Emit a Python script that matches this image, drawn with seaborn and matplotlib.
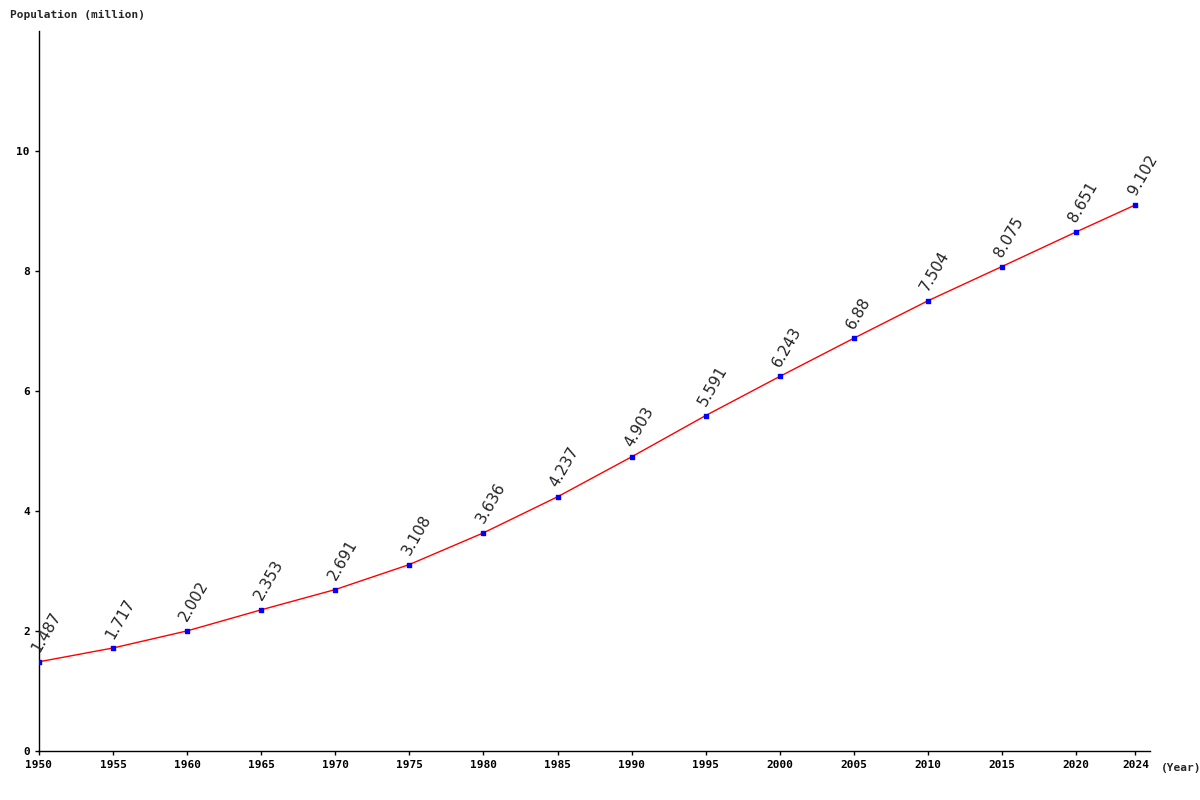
import matplotlib
matplotlib.use("Agg")
import matplotlib.pyplot as plt
import seaborn as sns
import pandas as pd

years = [1950,1955,1960,1965,1970,1975,1980,1985,1990,1995,2000,2005,2010,2015,2020,2024]
pop = [1.487,1.717,2.002,2.353,2.691,3.108,3.636,4.237,4.903,5.591,6.243,6.88,7.504,8.075,8.651,9.102]
labels = ["1.487","1.717","2.002","2.353","2.691","3.108","3.636","4.237","4.903","5.591","6.243","6.88","7.504","8.075","8.651","9.102"]
df = pd.DataFrame({"year": years, "pop": pop})

sns.set_style("white")
fig = plt.figure(figsize=(12, 8), dpi=100)
ax = fig.add_axes([0.0325, 0.06125, 0.926, 0.9])
sns.lineplot(data=df, x="year", y="pop", color="red", linewidth=1, ax=ax)
ax.scatter(df["year"], df["pop"], color="blue", marker="s", s=10, zorder=3)
for x, y, t in zip(years, pop, labels):
    ax.annotate(t, (x, y), xytext=(2, 5), textcoords="offset points", rotation=60,
                fontsize=11, color="#222222", ha="left", va="bottom", rotation_mode="anchor")
ax.set_xlim(1950, 2025)
ax.set_ylim(0, 12)
ax.set_xticks(years)
ax.set_yticks([0, 2, 4, 6, 8, 10])
for s in ["top", "right"]:
    ax.spines[s].set_visible(False)
for s in ["left", "bottom"]:
    ax.spines[s].set_color("black")
    ax.spines[s].set_linewidth(1)
ax.tick_params(axis="both", length=3, width=1, colors="black", labelsize=8, direction="out", bottom=True, left=True)
for lab in ax.get_xticklabels() + ax.get_yticklabels():
    lab.set_fontfamily("DejaVu Sans Mono")
    lab.set_fontweight("bold")
ax.set_xlabel("")
ax.set_ylabel("")
fig.text(0.008, 0.975, "Population (million)", fontsize=8, fontweight="bold", family="DejaVu Sans Mono", va="bottom")
fig.text(0.967, 0.04, "(Year)", fontsize=8, fontweight="bold", family="DejaVu Sans Mono", va="center")
fig.savefig("out.png", dpi=100)
